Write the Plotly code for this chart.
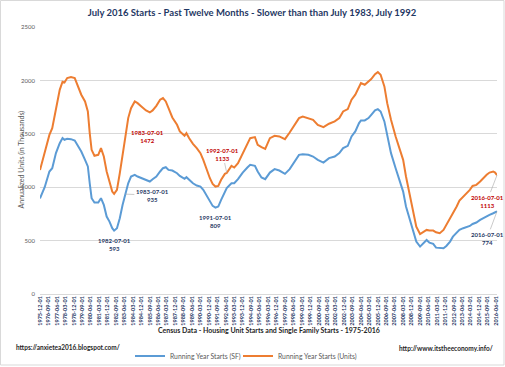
import plotly.graph_objects as go

dates = ["1975-12-01","1976-05-01","1976-10-01","1977-01-01","1977-05-01","1977-09-01","1977-12-01",
"1978-02-01","1978-05-01","1978-09-01","1979-01-01","1979-04-01","1979-08-01","1979-12-01",
"1980-03-01","1980-05-01","1980-07-01","1980-10-01","1981-02-01","1981-05-01","1981-08-01","1981-11-01",
"1982-02-01","1982-05-01","1982-07-01","1982-10-01","1983-01-01","1983-04-01","1983-07-01","1983-10-01",
"1984-01-01","1984-05-01","1984-08-01","1984-12-01","1985-05-01","1985-09-01","1985-12-01",
"1986-04-01","1986-08-01","1986-11-01","1987-02-01","1987-05-01","1987-09-01","1988-02-01",
"1988-05-01","1988-10-01","1988-12-01","1989-03-01","1989-07-01","1989-11-01","1990-03-01",
"1990-06-01","1990-09-01","1991-01-01","1991-04-01","1991-07-01","1991-10-01","1992-01-01",
"1992-05-01","1992-07-01","1992-12-01","1993-03-01","1993-07-01","1993-12-01","1994-05-01",
"1994-08-01","1995-01-01","1995-04-01","1995-08-01","1995-12-01","1996-05-01","1996-10-01",
"1997-03-01","1997-09-01","1998-02-01","1998-07-01","1998-12-01","1999-04-01","1999-10-01",
"2000-03-01","2000-08-01","2001-02-01","2001-08-01","2002-02-01","2002-07-01","2002-11-01",
"2003-04-01","2003-08-01","2003-12-01","2004-04-01","2004-06-01","2004-10-01","2005-02-01",
"2005-05-01","2005-09-01","2005-12-01","2006-03-01","2006-07-01","2006-10-01","2007-02-01",
"2007-07-01","2007-11-01","2008-03-01","2008-06-01","2008-10-01","2009-02-01","2009-05-01",
"2009-09-01","2009-12-01","2010-04-01","2010-07-01","2010-11-01","2011-02-01","2011-06-01",
"2011-10-01","2012-01-01","2012-05-01","2012-08-01","2012-12-01","2013-03-01","2013-07-01",
"2013-10-01","2014-02-01","2014-05-01","2014-09-01","2015-01-01","2015-04-01","2015-08-01",
"2015-11-01","2016-03-01","2016-05-01","2016-07-01"]

units = [1160,1330,1490,1553,1725,1912,1987,
1981,2022,2031,2022,1959,1866,1803,
1709,1506,1350,1294,1303,1366,1288,1147,
1053,959,937,975,1131,1319,1472,1647,
1740,1803,1787,1756,1719,1700,1719,
1762,1819,1834,1803,1740,1653,1584,
1522,1481,1506,1459,1406,1366,1319,
1256,1178,1084,1031,1006,1012,1069,
1125,1133,1200,1184,1225,1319,1412,
1459,1469,1397,1375,1359,1459,1481,
1475,1450,1512,1584,1647,1662,1647,
1631,1584,1562,1594,1616,1647,1709,
1731,1819,1866,1950,1975,1959,1990,
2012,2059,2078,2053,1944,1787,1631,
1475,1366,1256,1100,928,772,631,
562,575,600,594,594,578,569,
600,647,700,756,819,875,912,
937,975,1012,1022,1053,1084,1116,
1137,1147,1137,1113]

sf = [895,1000,1147,1178,1319,1412,1460,
1444,1453,1450,1437,1397,1334,1256,
1194,1037,897,856,856,897,834,725,
678,616,593,616,709,834,935,1037,
1100,1116,1100,1084,1062,1053,1075,
1100,1147,1178,1187,1162,1156,1131,
1106,1078,1094,1069,1037,1016,1006,
975,928,866,825,809,819,881,
959,991,1037,1037,1075,1137,1184,
1209,1200,1147,1091,1075,1137,1169,
1156,1125,1169,1240,1303,1309,1303,
1287,1256,1231,1272,1287,1319,1366,
1387,1475,1522,1600,1625,1625,1647,
1678,1719,1731,1709,1616,1475,1319,
1178,1069,959,819,694,584,491,
444,469,506,481,469,434,428,
428,450,491,537,569,600,616,
625,637,656,669,694,709,725,
741,756,766,774]

series_names = ["Running Year Starts (SF)", "Running Year Starts (Units)"]
title_text = "July 2016 Starts - Past Twelve Months - Slower than than July 1983, July 1992"
x_title = "Census Data - Housing Unit Starts and Single Family Starts - 1975-2016"
y_title = "Annualized Units (in Thousands)"

BLUE = "#5B9BD5"
ORANGE = "#ED7D31"
NAVY = "#1F3864"
RED = "#C00000"
GRAY = "#595959"
DARK = "#262626"
FONT = "Lato"

# plot-area geometry in pixels (for placing footer items in paper coords)
PL, PR, PT, PB = 40, 497, 27, 294
def px(x):
    return (x - PL) / (PR - PL)
def py(y):
    return (PB - y) / (PB - PT)

fig = go.Figure()
fig.add_trace(go.Scatter(x=dates, y=sf, mode="lines", name=series_names[0],
                         line=dict(color=BLUE, width=2), legend="legend"))
fig.add_trace(go.Scatter(x=dates, y=units, mode="lines", name=series_names[1],
                         line=dict(color=ORANGE, width=2), legend="legend2"))

def lab(d, v, color, xs=0, ys=0):
    fig.add_annotation(x=d, y=v, text="<b>%s<br>%d</b>" % (d, v), showarrow=False,
                       xshift=xs, yshift=ys, font=dict(family=FONT, size=6, color=color))

def lab_arrow(d, v, color, ax, ay):
    fig.add_annotation(x=d, y=v, text="<b>%s<br>%d</b>" % (d, v), showarrow=True,
                       arrowhead=0, arrowwidth=0.6, arrowcolor="#A6A6A6", ax=ax, ay=ay,
                       font=dict(family=FONT, size=6, color=color))

lab("1983-07-01", 1472, RED, xs=22, ys=0)
lab("1982-07-01", 593, NAVY, xs=0, ys=-14)
lab("1991-07-01", 809, NAVY, xs=0, ys=-14)
lab_arrow("1983-07-01", 935, NAVY, 27, 1)
lab_arrow("1992-07-01", 1133, RED, -4, -19)
lab_arrow("2016-07-01", 1113, RED, -10, 26)
lab_arrow("2016-07-01", 774, NAVY, -10, 27)

# Titles and footer texts
fig.add_annotation(xref="paper", yref="paper", x=px(268.5), y=py(336),
                   text="<b>"+x_title+"</b>", showarrow=False,
                   font=dict(family=FONT, size=7, color=DARK))
fig.add_annotation(xref="paper", yref="paper", x=px(14), y=py(160), textangle=-90,
                   text=y_title, showarrow=False, font=dict(family=FONT, size=7, color=GRAY))
fig.add_annotation(xref="paper", yref="paper", x=px(14), y=py(353), xanchor="left",
                   text="<b>https://anxietea2016.blogspot.com/</b>", showarrow=False,
                   font=dict(family=FONT, size=6.5, color=DARK))
fig.add_annotation(xref="paper", yref="paper", x=px(495), y=py(354), xanchor="right",
                   text="<b>http://www.itstheeconomy.info/</b>", showarrow=False,
                   font=dict(family=FONT, size=6.5, color=DARK))

# outer border
fig.add_shape(type="rect", xref="paper", yref="paper",
              x0=px(0.5), x1=px(504), y0=py(365), y1=py(0.5),
              line=dict(color="#D9D9D9", width=1), fillcolor="rgba(0,0,0,0)")

legend_common = dict(orientation="h", yanchor="middle", y=py(356), xanchor="left",
                     font=dict(family=FONT, size=6.8, color=GRAY), bgcolor="rgba(0,0,0,0)",
                     borderwidth=0, itemwidth=30)

fig.update_layout(
    width=505, height=367,
    margin=dict(l=PL, r=505-PR, t=PT, b=367-PB, autoexpand=False),
    paper_bgcolor="white", plot_bgcolor="white",
    title=dict(text="<b>"+title_text+"</b>", x=252/505, xanchor="center",
               y=1-13/367, yanchor="middle", font=dict(family=FONT, size=9.5, color=NAVY)),
    showlegend=True,
    legend=dict(x=px(130), **legend_common),
    legend2=dict(x=px(238), **legend_common),
    font=dict(family=FONT),
)
fig.update_xaxes(type="date", range=["1975-12-01", "2016-07-01"], tick0="1975-12-01", dtick="M9",
                 tickformat="%Y-%m-%d", tickangle=-90, showgrid=False, showline=False, zeroline=False,
                 ticks="", automargin=False,
                 tickfont=dict(family=FONT, size=5.5, color=NAVY, weight="bold"))
fig.update_yaxes(range=[0, 2500], dtick=500, showgrid=True, gridcolor="#D9D9D9", gridwidth=1,
                 zeroline=True, zerolinecolor="#D9D9D9", zerolinewidth=1, showline=False, ticks="",
                 automargin=False,
                 tickfont=dict(family=FONT, size=6, color=GRAY), ticklabelstandoff=4)

fig.write_html("out.html", config={"displayModeBar": False},
               post_script="document.body.style.margin='0';")
